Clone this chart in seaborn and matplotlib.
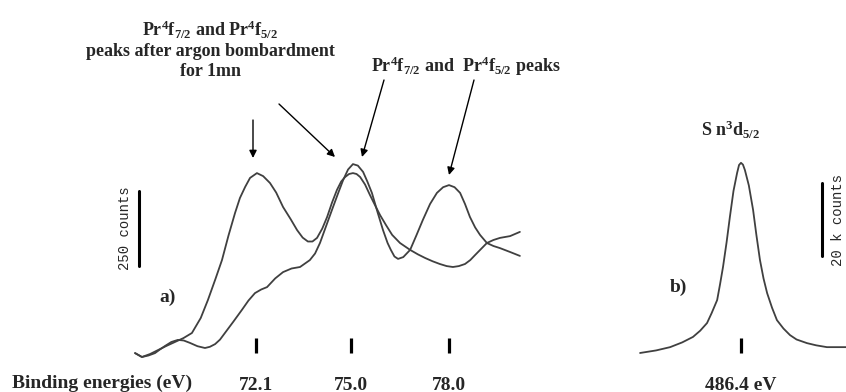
import matplotlib
matplotlib.use("Agg")
import matplotlib.pyplot as plt
import seaborn as sns

### XPS spectra: a) Pr 4f region before / after argon bombardment, b) Sn 3d5/2

# a) as received sample : Pr4f7/2 and Pr4f5/2 peaks at 75.0 / 78.0 eV
ev_asrec = [68.39, 68.60, 68.80, 69.00, 69.15, 69.31, 69.50, 69.70, 69.88, 70.07,
            70.30, 70.53, 70.68, 70.84, 70.99, 71.14, 71.40, 71.66, 71.86, 72.06,
            72.25, 72.43, 72.68, 72.92, 73.18, 73.44, 73.74, 73.90, 74.05, 74.25,
            74.45, 74.62, 74.76, 74.91, 75.06, 75.21, 75.37, 75.50, 75.64, 75.82,
            75.98, 76.12, 76.22, 76.33, 76.44, 76.60, 76.81, 77.00, 77.20, 77.42,
            77.63, 77.82, 78.00, 78.17, 78.34, 78.49, 78.64, 78.80, 78.95, 79.16,
            79.36, 79.56, 79.87, 80.17]
cts_asrec = [13, 0, 5, 13, 25, 37, 50, 57, 55, 47,
             36, 30, 34, 43, 58, 80, 118, 157, 188, 213,
             225, 233, 262, 283, 295, 300, 323, 345, 380, 440,
             500, 550, 590, 625, 643, 638, 617, 585, 547, 480,
             423, 380, 357, 335, 327, 333, 357, 405, 457, 510,
             547, 566, 573, 566, 547, 510, 467, 432, 407, 380,
             370, 363, 350, 337]

# a) after argon bombardment for 1mn : peaks at 72.1 / 75.0 eV
ev_argon = [68.39, 68.60, 68.85, 69.09, 69.35, 69.61, 69.87, 70.13, 70.40, 70.62,
            70.85, 71.05, 71.25, 71.45, 71.60, 71.76, 71.91, 72.12, 72.31, 72.52,
            72.71, 72.92, 73.15, 73.35, 73.52, 73.68, 73.82, 73.96, 74.12, 74.27,
            74.42, 74.57, 74.70, 74.82, 74.94, 75.06, 75.17, 75.28, 75.43, 75.58,
            75.74, 75.89, 76.07, 76.26, 76.50, 76.81, 77.05, 77.27, 77.50, 77.72,
            77.93, 78.12, 78.30, 78.49, 78.65, 78.80, 78.98, 79.16, 79.36, 79.56,
            79.87, 80.17]
cts_argon = [13, 0, 10, 23, 37, 50, 63, 80, 130, 190,
             260, 323, 405, 480, 530, 567, 597, 613, 603, 580,
             548, 500, 460, 423, 398, 385, 385, 397, 428, 467,
             515, 557, 585, 600, 610, 613, 610, 600, 575, 540,
             505, 473, 440, 407, 380, 357, 342, 330, 319, 310,
             303, 300, 303, 310, 323, 340, 360, 380, 390, 397,
             403, 417]

# b) Sn3d5/2 peak (k counts)
ev_sn = [483.31, 483.80, 484.23, 484.60, 484.93, 485.15, 485.36, 485.50, 485.67,
         485.76, 485.85, 485.96, 486.06, 486.17, 486.28, 486.34, 486.40, 486.46,
         486.52, 486.64, 486.77, 486.87, 486.98, 487.09, 487.20, 487.35, 487.50,
         487.70, 487.90, 488.10, 488.42, 488.70, 489.03, 489.64]
kcts_sn = [1.1, 1.8, 2.7, 4.0, 5.5, 7.2, 9.3, 12.0, 15.6,
           20.0, 24.7, 31.5, 38.4, 45.5, 50.4, 52.6, 53.2, 52.7,
           51.2, 47.0, 40.3, 33.5, 26.6, 21.5, 17.5, 13.5, 10.1,
           7.8, 6.0, 4.8, 3.8, 3.2, 2.7, 2.7]

ticks_a = [72.1, 75.0, 78.0]
ticks_b = [486.4]
ticklabels_b = ["486.4 eV"]
scale_a = 250    # counts
scale_b = 20     # k counts

sns.set_style("white")
plt.rcParams['font.family'] = ['Liberation Serif', 'DejaVu Serif']
plt.rcParams['font.weight'] = 'bold'
plt.rcParams['mathtext.fontset'] = 'custom'
plt.rcParams['mathtext.rm'] = 'Liberation Serif:bold'
plt.rcParams['mathtext.it'] = 'Liberation Serif:bold'
plt.rcParams['mathtext.bf'] = 'Liberation Serif:bold'

W, H = 846, 392
fig = plt.figure(figsize=(W / 100, H / 100), dpi=100)
line_col = '#404040'

def px_axes(x0, x1, ytop, ybot):
    return fig.add_axes([x0 / W, 1 - ybot / H, (x1 - x0) / W, (ybot - ytop) / H])

def fpx(x, y):  # image pixel -> figure fraction
    return (x / W, 1 - y / H)

px_per_ev = 98 / 3.0

# ---- panel a
ax_a = px_axes(120, 525, 140, 353)
cpp_a = 250 / 75.0
ax_a.set_xlim(75.0 + (120 - 351) / px_per_ev, 75.0 + (525 - 351) / px_per_ev)
ax_a.set_ylim((357 - 353) * cpp_a, (357 - 140) * cpp_a)
sns.lineplot(x=ev_asrec, y=cts_asrec, ax=ax_a, color=line_col, lw=1.3, sort=False, estimator=None)
sns.lineplot(x=ev_argon, y=cts_argon, ax=ax_a, color=line_col, lw=1.3, sort=False, estimator=None)
bar_x = 75.0 + (139 - 351) / px_per_ev
ax_a.plot([bar_x, bar_x], [303, 303 + scale_a], color='black', lw=2.2, clip_on=False)
ax_a.text(bar_x - 0.42, 303 + scale_a / 2, "250 counts", rotation=90, ha='center', va='center',
          family='Liberation Mono', fontweight='normal', fontsize=10)

# ---- panel b
ax_b = px_axes(620, 846, 140, 353)
kcpp_b = 20 / 73.0
ax_b.set_xlim(486.4 + (620 - 741) / px_per_ev, 486.4 + (846 - 741) / px_per_ev)
ax_b.set_ylim((357 - 353) * kcpp_b, (357 - 140) * kcpp_b)
sns.lineplot(x=ev_sn, y=kcts_sn, ax=ax_b, color=line_col, lw=1.3, sort=False, estimator=None)
bar_xb = 486.4 + (822 - 741) / px_per_ev
ax_b.plot([bar_xb, bar_xb], [27.7, 27.7 + scale_b], color='black', lw=2.2, clip_on=False)
fig.text(831 / W, 1 - 220 / H, "20 k counts", rotation=90, ha='left', va='center',
         family='Liberation Mono', fontweight='normal', fontsize=10)

for ax in (ax_a, ax_b):
    for ln in ax.lines:
        ln.set_clip_on(False)
        ln.set_solid_joinstyle('round')
    for s in ax.spines.values():
        s.set_visible(False)
    ax.set_yticks([])
    ax.set_xlabel(None)
    ax.set_ylabel(None)
    ax.tick_params(axis='x', direction='in', length=10.8, width=2.3, color='black',
                   pad=17, labelsize=14, bottom=True)
    ax.patch.set_alpha(0)

ax_a.set_xticks(ticks_a)
ax_a.set_xticklabels([f"{t:.1f}" for t in ticks_a])
ax_b.set_xticks(ticks_b)
ax_b.set_xticklabels(ticklabels_b)

fig.text(*fpx(12, 383), "Binding energies (eV)", ha='left', va='center', fontsize=14)
fig.text(*fpx(168, 297), "a)", ha='center', va='center', fontsize=14)
fig.text(*fpx(678, 287), "b)", ha='center', va='center', fontsize=14)

# annotations
fig.text(*fpx(210, 30), r"Pr$^4$f$_{7/2}$ and Pr$^4$f$_{5/2}$", ha='center', va='center', fontsize=13)
fig.text(*fpx(210, 52), "peaks after argon bombardment", ha='center', va='center', fontsize=13)
fig.text(*fpx(210, 72), "for 1mn", ha='center', va='center', fontsize=13)
fig.text(*fpx(466, 66), r"Pr$^4$f$_{7/2}$ and  Pr$^4$f$_{5/2}$ peaks", ha='center', va='center', fontsize=13)
fig.text(*fpx(731, 130), r"S n$^3$d$_{5/2}$", ha='center', va='center', fontsize=13)

arrows = [((253, 120), (253, 158)), ((279, 104), (335, 157)),
          ((384, 80), (362, 157)), ((474, 80), (449, 175))]
for (x0, y0), (x1, y1) in arrows:
    fig.add_artist(matplotlib.patches.FancyArrowPatch(
        fpx(x0, y0), fpx(x1, y1), transform=fig.transFigure,
        arrowstyle='-|>', mutation_scale=11, color='black', lw=1.0, shrinkA=0, shrinkB=0))

fig.savefig("out.png", dpi=100, facecolor='white')
